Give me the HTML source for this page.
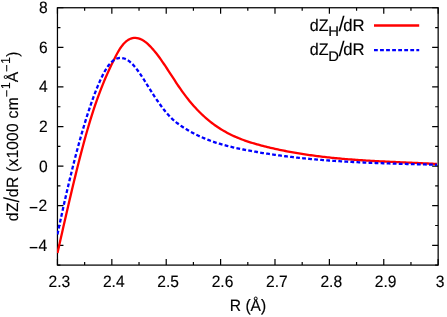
<!DOCTYPE html>
<html><head><meta charset="utf-8"><title>plot</title>
<style>
html,body{margin:0;padding:0;background:#fff;}
body{width:447px;height:317px;overflow:hidden;}
svg{display:block;font-family:"Liberation Sans",sans-serif;}
text{fill:#000;stroke:#000;stroke-width:0.14px;}
.yl text{stroke-width:0.1px;}
.sl text{stroke:none;}
</style></head><body>
<svg width="447" height="317" viewBox="0 0 447 317">
<rect x="0" y="0" width="447" height="317" fill="#fff"/>
<defs><clipPath id="c"><rect x="57.45" y="7.75" width="380.70" height="257.35"/></clipPath></defs>
<path d="M57.45,265.10v-6.0 M57.45,7.75v6.0 M84.64,265.10v-3.0 M84.64,7.75v3.0 M111.84,265.10v-6.0 M111.84,7.75v6.0 M139.03,265.10v-3.0 M139.03,7.75v3.0 M166.22,265.10v-6.0 M166.22,7.75v6.0 M193.41,265.10v-3.0 M193.41,7.75v3.0 M220.61,265.10v-6.0 M220.61,7.75v6.0 M247.80,265.10v-3.0 M247.80,7.75v3.0 M274.99,265.10v-6.0 M274.99,7.75v6.0 M302.19,265.10v-3.0 M302.19,7.75v3.0 M329.38,265.10v-6.0 M329.38,7.75v6.0 M356.57,265.10v-3.0 M356.57,7.75v3.0 M383.76,265.10v-6.0 M383.76,7.75v6.0 M410.96,265.10v-3.0 M410.96,7.75v3.0 M438.15,265.10v-6.0 M438.15,7.75v6.0 M57.45,265.10h3.0 M438.15,265.10h-3.0 M57.45,245.30h6.0 M438.15,245.30h-6.0 M57.45,225.51h3.0 M438.15,225.51h-3.0 M57.45,205.71h6.0 M438.15,205.71h-6.0 M57.45,185.92h3.0 M438.15,185.92h-3.0 M57.45,166.12h6.0 M438.15,166.12h-6.0 M57.45,146.32h3.0 M438.15,146.32h-3.0 M57.45,126.53h6.0 M438.15,126.53h-6.0 M57.45,106.73h3.0 M438.15,106.73h-3.0 M57.45,86.93h6.0 M438.15,86.93h-6.0 M57.45,67.14h3.0 M438.15,67.14h-3.0 M57.45,47.34h6.0 M438.15,47.34h-6.0 M57.45,27.55h3.0 M438.15,27.55h-3.0 M57.45,7.75h6.0 M438.15,7.75h-6.0" stroke="#000" stroke-width="1.2" fill="none"/>
<rect x="57.45" y="7.75" width="380.70" height="257.35" fill="none" stroke="#000" stroke-width="1.25"/>
<g style="text-rendering:geometricPrecision;will-change:transform">
<text transform="translate(47.80,250.80) scale(1.0,1.055)" font-size="15.6" text-anchor="end"><tspan dy="2.0" dx="-0.5" style="stroke-width:0.1px">−</tspan><tspan dy="-2.0" dx="0.5">4</tspan></text>
<text transform="translate(47.80,211.21) scale(1.0,1.055)" font-size="15.6" text-anchor="end"><tspan dy="2.0" dx="-0.5" style="stroke-width:0.1px">−</tspan><tspan dy="-2.0" dx="0.5">2</tspan></text>
<text transform="translate(47.80,171.62) scale(1.0,1.055)" font-size="15.6" text-anchor="end">0</text>
<text transform="translate(47.80,132.03) scale(1.0,1.055)" font-size="15.6" text-anchor="end">2</text>
<text transform="translate(47.80,92.43) scale(1.0,1.055)" font-size="15.6" text-anchor="end">4</text>
<text transform="translate(47.80,52.84) scale(1.0,1.055)" font-size="15.6" text-anchor="end">6</text>
<text transform="translate(47.80,13.25) scale(1.0,1.055)" font-size="15.6" text-anchor="end">8</text>
<text transform="translate(59.35,287.30) scale(1.0,1.055)" font-size="15.6" text-anchor="middle">2.3</text>
<text transform="translate(113.74,287.30) scale(1.0,1.055)" font-size="15.6" text-anchor="middle">2.4</text>
<text transform="translate(168.12,287.30) scale(1.0,1.055)" font-size="15.6" text-anchor="middle">2.5</text>
<text transform="translate(222.51,287.30) scale(1.0,1.055)" font-size="15.6" text-anchor="middle">2.6</text>
<text transform="translate(276.89,287.30) scale(1.0,1.055)" font-size="15.6" text-anchor="middle">2.7</text>
<text transform="translate(331.28,287.30) scale(1.0,1.055)" font-size="15.6" text-anchor="middle">2.8</text>
<text transform="translate(385.66,287.30) scale(1.0,1.055)" font-size="15.6" text-anchor="middle">2.9</text>
<text transform="translate(440.05,287.30) scale(1.0,1.055)" font-size="15.6" text-anchor="middle">3</text>
<text transform="translate(248.00,310.60) scale(1.0,1.055)" font-size="15.6" text-anchor="middle">R (Å)</text>
<g class="sl"><text transform="translate(19.00,202.60) rotate(-90) scale(1.25,1.39)" font-size="15.6" text-anchor="start">/</text></g>
<g class="yl"><text transform="translate(18.00,221.20) rotate(-90) scale(1.0,1.045)" font-size="15.6" text-anchor="start"><tspan x="0.04" dy="0.00" font-size="15.60">d</tspan><tspan x="9.18" dy="0.00" font-size="15.60">Z</tspan><tspan x="23.99" dy="0.00" font-size="15.60">d</tspan><tspan x="33.24" dy="0.00" font-size="15.60">R</tspan> <tspan x="49.16" dy="0.00" font-size="15.60">(</tspan><tspan x="54.60" dy="0.00" font-size="15.60">x</tspan><tspan x="62.66" dy="0.00" font-size="15.60">1</tspan><tspan x="71.36" dy="0.00" font-size="15.60">0</tspan><tspan x="80.26" dy="0.00" font-size="15.60">0</tspan><tspan x="89.21" dy="0.00" font-size="15.60">0</tspan> <tspan x="102.62" dy="0.00" font-size="15.60">c</tspan><tspan x="111.05" dy="0.00" font-size="15.60">m</tspan><tspan x="124.20" dy="-7.08" font-size="12.50">−</tspan><tspan x="131.95" dy="-0.86" font-size="12.50">1</tspan><tspan x="138.85" dy="7.94" font-size="15.60">Å</tspan><tspan x="149.35" dy="-7.08" font-size="12.50">−</tspan><tspan x="157.15" dy="-0.86" font-size="12.50">1</tspan><tspan x="164.44" dy="7.94" font-size="15.60">)</tspan></text></g>
<text transform="translate(309.70,30.80) scale(1.03,1.08)" font-size="15.6" text-anchor="start">dZ</text>
<text transform="translate(328.30,36.10) scale(1.19,1.12)" font-size="12.48" text-anchor="start">H</text>
<g class="sl"><text transform="translate(338.40,31.10) scale(1.4,1.36)" font-size="15.6" text-anchor="start">/</text></g>
<text transform="translate(343.30,30.80) scale(1.07,1.08)" font-size="15.6" text-anchor="start">dR</text>
<text transform="translate(309.70,55.40) scale(1.03,1.08)" font-size="15.6" text-anchor="start">dZ</text>
<text transform="translate(328.30,60.70) scale(1.19,1.12)" font-size="12.48" text-anchor="start">D</text>
<g class="sl"><text transform="translate(338.40,55.70) scale(1.4,1.36)" font-size="15.6" text-anchor="start">/</text></g>
<text transform="translate(343.30,55.40) scale(1.07,1.08)" font-size="15.6" text-anchor="start">dR</text>
</g>
<path d="M374,25.5H419.2" stroke="#ff0000" stroke-width="2.3" fill="none"/>
<path d="M374,50.2H419.2" stroke="#0000ff" stroke-width="2.3" stroke-dasharray="3.8 2.25" fill="none"/>
<g clip-path="url(#c)" fill="none" stroke-linejoin="round">
<path d="M57.45,253.03 L58.95,246.40 L60.45,239.77 L61.95,233.15 L63.45,226.55 L64.95,219.98 L66.45,213.44 L67.95,206.95 L69.45,200.50 L70.95,194.12 L72.45,187.79 L73.95,181.54 L75.45,175.37 L76.95,169.28 L78.45,163.29 L79.95,157.40 L81.45,151.62 L82.95,145.95 L84.45,140.40 L85.95,134.99 L87.45,129.72 L88.95,124.59 L90.45,119.61 L91.95,114.79 L93.45,110.14 L94.95,105.65 L96.45,101.30 L97.95,97.11 L99.45,93.05 L100.95,89.12 L102.45,85.32 L103.95,81.64 L105.45,78.07 L106.95,74.61 L108.45,71.25 L109.95,67.98 L111.45,64.80 L112.95,61.70 L114.45,58.68 L115.95,55.74 L117.45,52.95 L118.95,50.34 L120.45,47.99 L121.95,45.91 L123.45,44.08 L124.95,42.51 L126.45,41.17 L127.95,40.08 L129.45,39.21 L130.95,38.56 L132.45,38.13 L133.95,37.90 L135.45,37.86 L136.95,38.02 L138.45,38.35 L139.95,38.86 L141.45,39.53 L142.95,40.35 L144.45,41.33 L145.95,42.45 L147.45,43.70 L148.95,45.08 L150.45,46.57 L151.95,48.17 L153.45,49.88 L154.95,51.68 L156.45,53.56 L157.95,55.52 L159.45,57.55 L160.95,59.65 L162.45,61.80 L163.95,63.99 L165.45,66.23 L166.95,68.49 L168.45,70.78 L169.95,73.08 L171.45,75.39 L172.95,77.69 L174.45,79.99 L175.95,82.27 L177.45,84.53 L178.95,86.75 L180.45,88.94 L181.95,91.07 L183.45,93.15 L184.95,95.18 L186.45,97.15 L187.95,99.06 L189.45,100.92 L190.95,102.72 L192.45,104.48 L193.95,106.18 L195.45,107.83 L196.95,109.44 L198.45,110.99 L199.95,112.50 L201.45,113.96 L202.95,115.38 L204.45,116.75 L205.95,118.08 L207.45,119.37 L208.95,120.62 L210.45,121.82 L211.95,122.99 L213.45,124.11 L214.95,125.20 L216.45,126.25 L217.95,127.27 L219.45,128.25 L220.95,129.20 L222.45,130.12 L223.95,131.00 L225.45,131.85 L226.95,132.68 L228.45,133.47 L229.95,134.24 L231.45,134.97 L232.95,135.69 L234.45,136.37 L235.95,137.04 L237.45,137.68 L238.95,138.29 L240.45,138.89 L241.95,139.46 L243.45,140.02 L244.95,140.56 L246.45,141.08 L247.95,141.58 L249.45,142.07 L250.95,142.54 L252.45,143.00 L253.95,143.45 L255.45,143.88 L256.95,144.31 L258.45,144.72 L259.95,145.12 L261.45,145.52 L262.95,145.91 L264.45,146.30 L265.95,146.67 L267.45,147.04 L268.95,147.41 L270.45,147.76 L271.95,148.11 L273.45,148.46 L274.95,148.80 L276.45,149.13 L277.95,149.46 L279.45,149.78 L280.95,150.09 L282.45,150.40 L283.95,150.71 L285.45,151.00 L286.95,151.29 L288.45,151.58 L289.95,151.86 L291.45,152.14 L292.95,152.41 L294.45,152.67 L295.95,152.93 L297.45,153.19 L298.95,153.44 L300.45,153.68 L301.95,153.92 L303.45,154.16 L304.95,154.39 L306.45,154.61 L307.95,154.83 L309.45,155.05 L310.95,155.26 L312.45,155.47 L313.95,155.67 L315.45,155.87 L316.95,156.06 L318.45,156.25 L319.95,156.44 L321.45,156.62 L322.95,156.80 L324.45,156.97 L325.95,157.14 L327.45,157.31 L328.95,157.47 L330.45,157.63 L331.95,157.78 L333.45,157.94 L334.95,158.09 L336.45,158.23 L337.95,158.37 L339.45,158.51 L340.95,158.65 L342.45,158.78 L343.95,158.91 L345.45,159.04 L346.95,159.16 L348.45,159.28 L349.95,159.40 L351.45,159.51 L352.95,159.63 L354.45,159.74 L355.95,159.85 L357.45,159.95 L358.95,160.06 L360.45,160.16 L361.95,160.25 L363.45,160.35 L364.95,160.45 L366.45,160.54 L367.95,160.63 L369.45,160.72 L370.95,160.81 L372.45,160.89 L373.95,160.98 L375.45,161.06 L376.95,161.14 L378.45,161.22 L379.95,161.30 L381.45,161.37 L382.95,161.45 L384.45,161.52 L385.95,161.60 L387.45,161.67 L388.95,161.74 L390.45,161.81 L391.95,161.88 L393.45,161.95 L394.95,162.02 L396.45,162.08 L397.95,162.15 L399.45,162.22 L400.95,162.28 L402.45,162.35 L403.95,162.42 L405.45,162.48 L406.95,162.55 L408.45,162.61 L409.95,162.68 L411.45,162.74 L412.95,162.81 L414.45,162.87 L415.95,162.94 L417.45,163.01 L418.95,163.07 L420.45,163.14 L421.95,163.21 L423.45,163.28 L424.95,163.34 L426.45,163.41 L427.95,163.49 L429.45,163.56 L430.95,163.63 L432.45,163.70 L433.95,163.78 L435.45,163.85 L436.95,163.93" stroke="#ff0000" stroke-width="2.3"/>
<path d="M57.45,234.39 L58.95,227.29 L60.45,220.30 L61.95,213.41 L63.45,206.62 L64.95,199.95 L66.45,193.39 L67.95,186.95 L69.45,180.62 L70.95,174.41 L72.45,168.33 L73.95,162.36 L75.45,156.53 L76.95,150.82 L78.45,145.24 L79.95,139.79 L81.45,134.48 L82.95,129.31 L84.45,124.27 L85.95,119.38 L87.45,114.63 L88.95,110.03 L90.45,105.57 L91.95,101.27 L93.45,97.12 L94.95,93.12 L96.45,89.28 L97.95,85.60 L99.45,82.09 L100.95,78.76 L102.45,75.64 L103.95,72.74 L105.45,70.07 L106.95,67.66 L108.45,65.52 L109.95,63.66 L111.45,62.08 L112.95,60.77 L114.45,59.72 L115.95,58.92 L117.45,58.36 L118.95,58.02 L120.45,57.90 L121.95,57.98 L123.45,58.26 L124.95,58.74 L126.45,59.43 L127.95,60.31 L129.45,61.40 L130.95,62.67 L132.45,64.14 L133.95,65.77 L135.45,67.55 L136.95,69.46 L138.45,71.50 L139.95,73.64 L141.45,75.86 L142.95,78.15 L144.45,80.50 L145.95,82.88 L147.45,85.28 L148.95,87.68 L150.45,90.08 L151.95,92.44 L153.45,94.77 L154.95,97.07 L156.45,99.32 L157.95,101.52 L159.45,103.66 L160.95,105.75 L162.45,107.77 L163.95,109.71 L165.45,111.58 L166.95,113.36 L168.45,115.05 L169.95,116.65 L171.45,118.15 L172.95,119.55 L174.45,120.87 L175.95,122.12 L177.45,123.29 L178.95,124.40 L180.45,125.46 L181.95,126.47 L183.45,127.45 L184.95,128.40 L186.45,129.32 L187.95,130.21 L189.45,131.08 L190.95,131.92 L192.45,132.74 L193.95,133.53 L195.45,134.29 L196.95,135.03 L198.45,135.75 L199.95,136.45 L201.45,137.12 L202.95,137.78 L204.45,138.41 L205.95,139.02 L207.45,139.61 L208.95,140.19 L210.45,140.74 L211.95,141.28 L213.45,141.80 L214.95,142.30 L216.45,142.79 L217.95,143.26 L219.45,143.72 L220.95,144.16 L222.45,144.59 L223.95,145.01 L225.45,145.41 L226.95,145.80 L228.45,146.18 L229.95,146.55 L231.45,146.91 L232.95,147.26 L234.45,147.61 L235.95,147.94 L237.45,148.26 L238.95,148.58 L240.45,148.89 L241.95,149.20 L243.45,149.50 L244.95,149.79 L246.45,150.08 L247.95,150.37 L249.45,150.65 L250.95,150.93 L252.45,151.20 L253.95,151.47 L255.45,151.74 L256.95,152.00 L258.45,152.26 L259.95,152.51 L261.45,152.76 L262.95,153.01 L264.45,153.25 L265.95,153.49 L267.45,153.72 L268.95,153.95 L270.45,154.18 L271.95,154.40 L273.45,154.62 L274.95,154.84 L276.45,155.05 L277.95,155.26 L279.45,155.46 L280.95,155.66 L282.45,155.86 L283.95,156.06 L285.45,156.25 L286.95,156.44 L288.45,156.62 L289.95,156.80 L291.45,156.98 L292.95,157.16 L294.45,157.33 L295.95,157.50 L297.45,157.67 L298.95,157.83 L300.45,157.99 L301.95,158.15 L303.45,158.30 L304.95,158.45 L306.45,158.60 L307.95,158.74 L309.45,158.89 L310.95,159.03 L312.45,159.17 L313.95,159.30 L315.45,159.43 L316.95,159.56 L318.45,159.69 L319.95,159.81 L321.45,159.94 L322.95,160.05 L324.45,160.17 L325.95,160.29 L327.45,160.40 L328.95,160.51 L330.45,160.62 L331.95,160.72 L333.45,160.83 L334.95,160.93 L336.45,161.03 L337.95,161.12 L339.45,161.22 L340.95,161.31 L342.45,161.40 L343.95,161.49 L345.45,161.58 L346.95,161.67 L348.45,161.75 L349.95,161.83 L351.45,161.91 L352.95,161.99 L354.45,162.07 L355.95,162.14 L357.45,162.22 L358.95,162.29 L360.45,162.36 L361.95,162.43 L363.45,162.50 L364.95,162.56 L366.45,162.63 L367.95,162.69 L369.45,162.75 L370.95,162.81 L372.45,162.87 L373.95,162.93 L375.45,162.99 L376.95,163.04 L378.45,163.10 L379.95,163.15 L381.45,163.21 L382.95,163.26 L384.45,163.31 L385.95,163.36 L387.45,163.41 L388.95,163.46 L390.45,163.50 L391.95,163.55 L393.45,163.60 L394.95,163.64 L396.45,163.69 L397.95,163.73 L399.45,163.78 L400.95,163.82 L402.45,163.86 L403.95,163.90 L405.45,163.95 L406.95,163.99 L408.45,164.03 L409.95,164.07 L411.45,164.11 L412.95,164.15 L414.45,164.19 L415.95,164.23 L417.45,164.27 L418.95,164.31 L420.45,164.35 L421.95,164.39 L423.45,164.43 L424.95,164.47 L426.45,164.51 L427.95,164.55 L429.45,164.59 L430.95,164.63 L432.45,164.67 L433.95,164.71 L435.45,164.75 L436.95,164.79" stroke="#0000ff" stroke-width="2.3" stroke-dasharray="3.8 2.25"/>
</g>
</svg></body></html>
